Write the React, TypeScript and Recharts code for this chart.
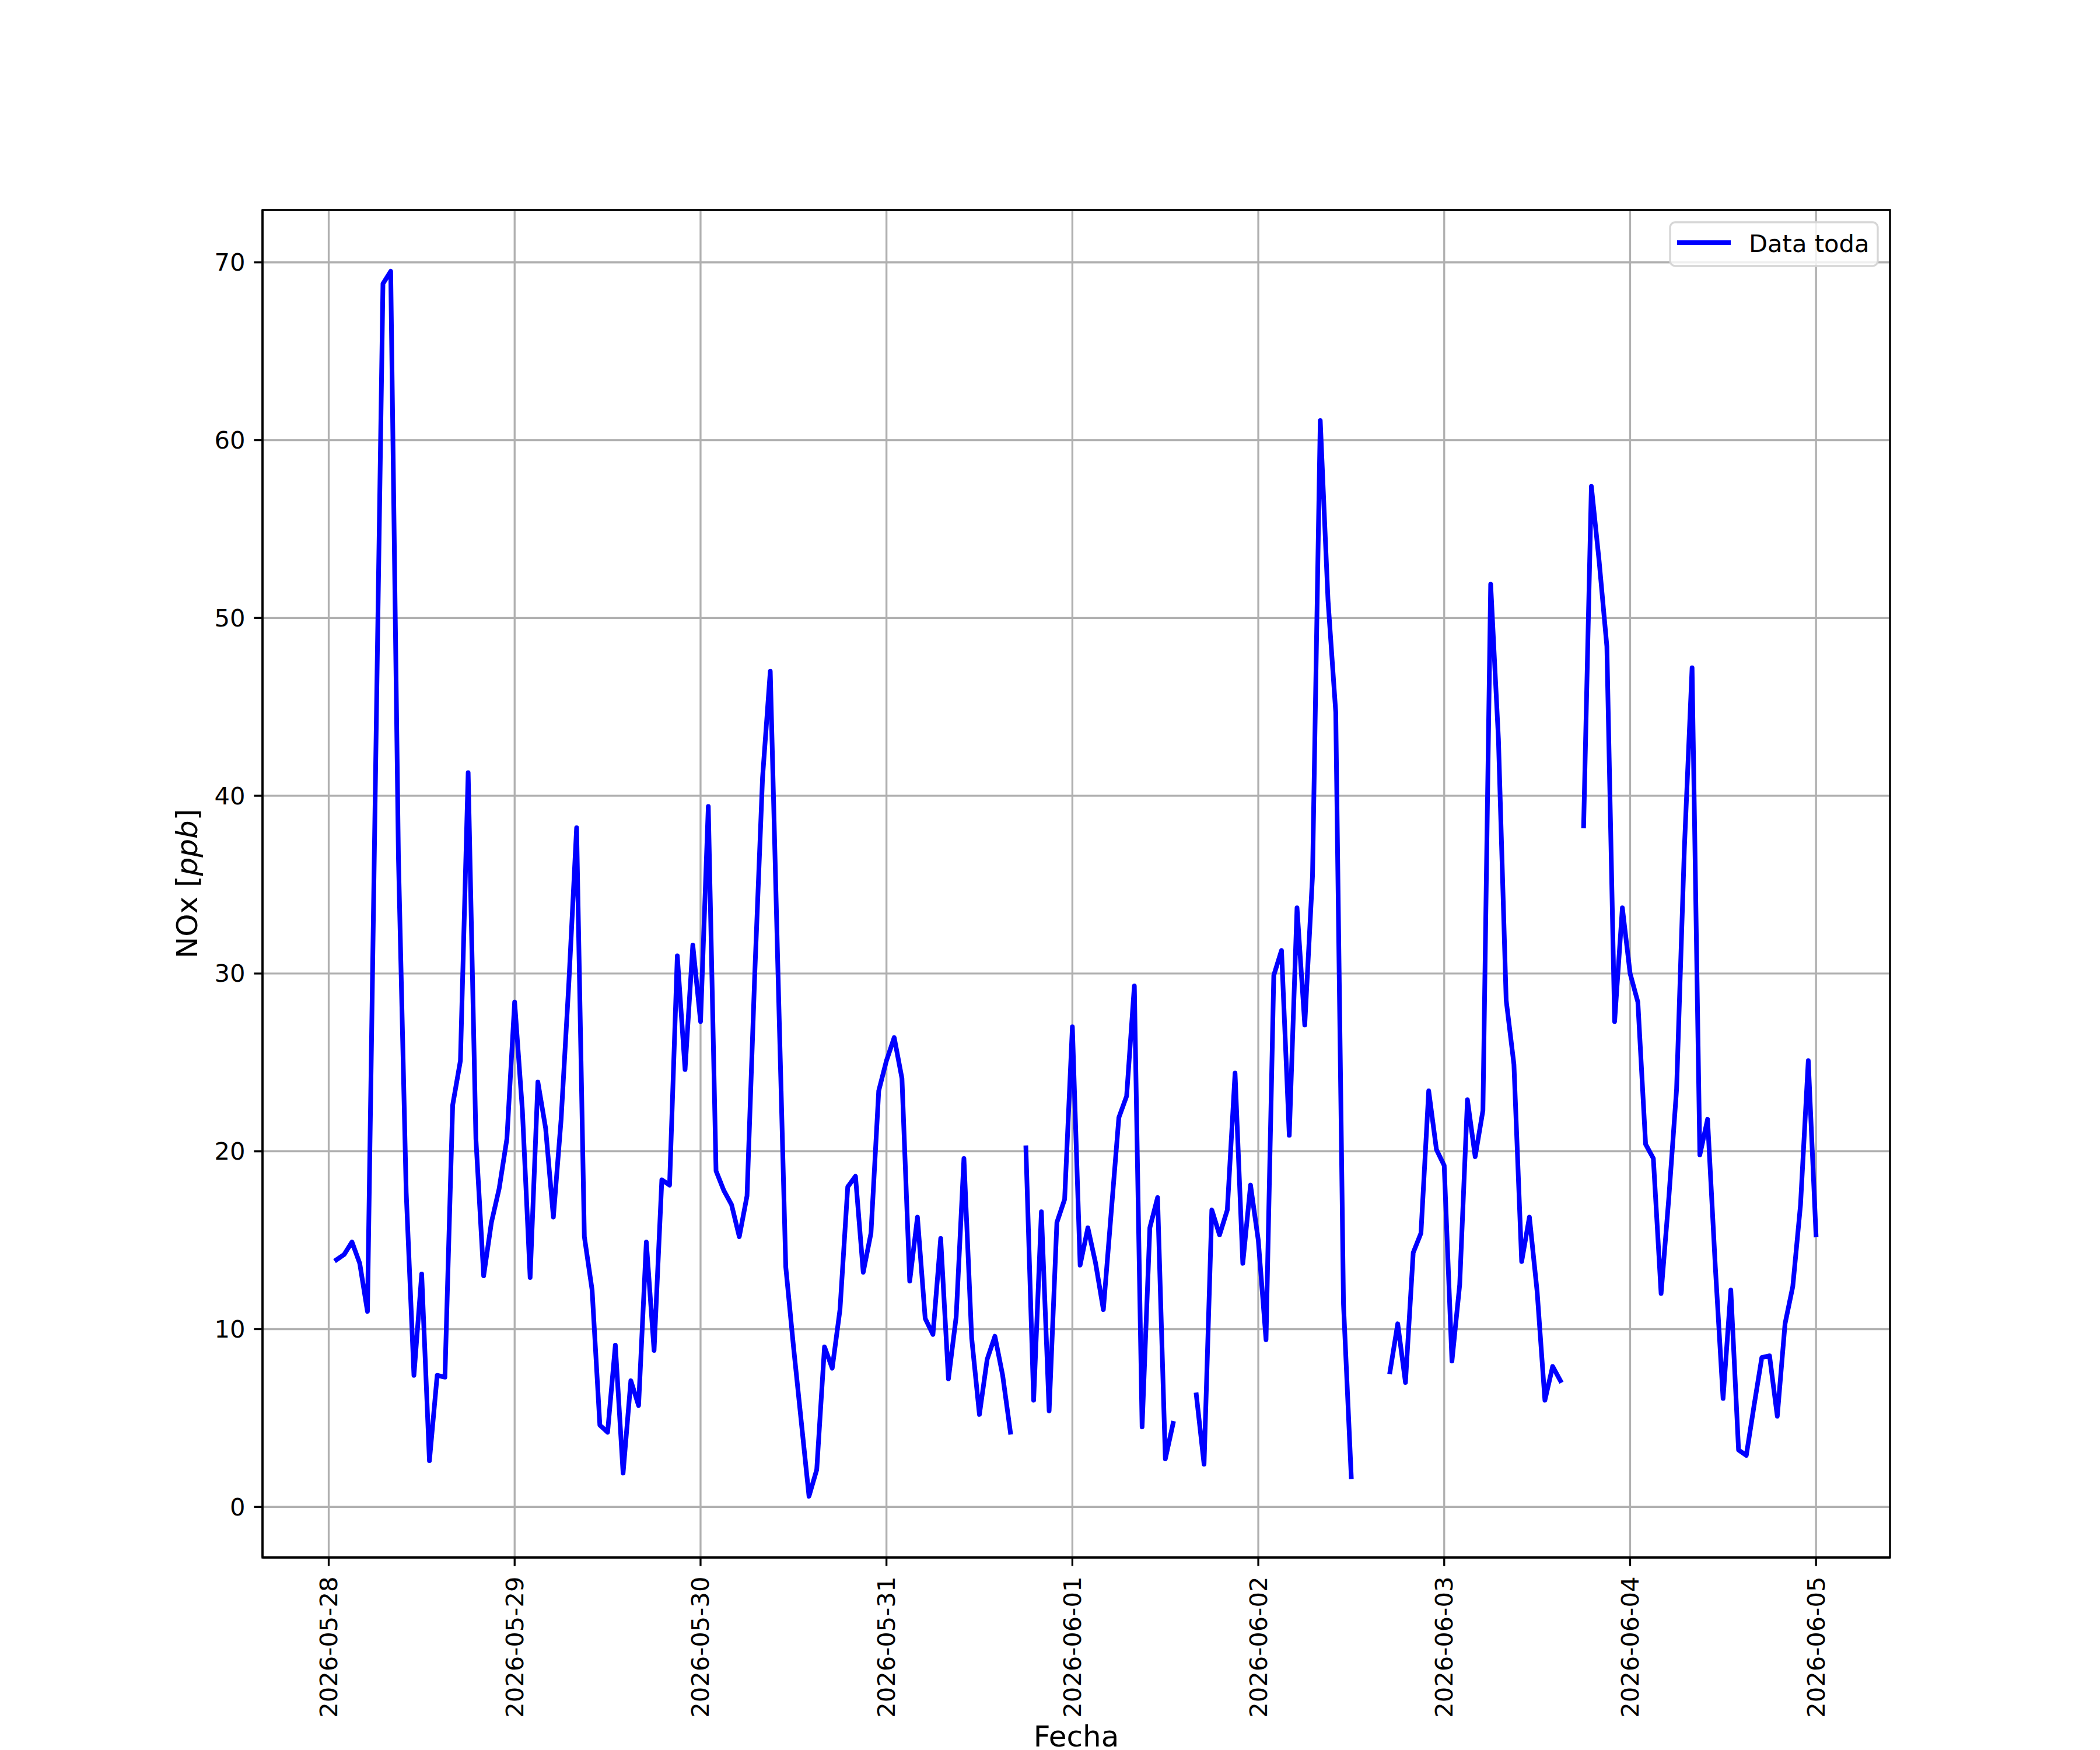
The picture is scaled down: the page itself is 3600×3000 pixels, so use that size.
import React from 'react';
import {
  LineChart,
  Line,
  XAxis,
  YAxis,
  CartesianGrid,
  ReferenceArea,
} from 'recharts';

// hourly NOx readings (ppb); each list starts at 01:00 of its day and ends at 00:00 of the next
const day28: (number | null)[] = [13.9, 14.2, 14.9, 13.7, 11.0, 40.0, 68.8, 69.5, 36.5, 17.7, 7.4, 13.1, 2.6, 7.4, 7.3, 22.6, 25.1, 41.3, 20.7, 13.0, 16.0, 17.9, 20.7, 28.4];
const day29: (number | null)[] = [22.3, 12.9, 23.9, 21.3, 16.3, 21.8, 29.5, 38.2, 15.2, 12.2, 4.6, 4.2, 9.1, 1.9, 7.1, 5.7, 14.9, 8.8, 18.4, 18.1, 31.0, 24.6, 31.6, 27.3];
const day30: (number | null)[] = [39.4, 18.9, 17.8, 17.0, 15.2, 17.5, 30.0, 41.0, 47.0, 30.0, 13.5, 9.0, 4.8, 0.6, 2.1, 9.0, 7.8, 11.1, 18.0, 18.6, 13.2, 15.4, 23.4, 25.1];
const day31: (number | null)[] = [26.4, 24.1, 12.7, 16.3, 10.6, 9.7, 15.1, 7.2, 10.7, 19.6, 9.5, 5.2, 8.3, 9.6, 7.4, 4.2, null, 20.2, 6.0, 16.6, 5.4, 16.0, 17.3, 27.0];
const day01: (number | null)[] = [13.6, 15.7, 13.7, 11.1, 16.5, 21.9, 23.1, 29.3, 4.5, 15.7, 17.4, 2.7, 4.7, null, null, 6.3, 2.4, 16.7, 15.3, 16.7, 24.4, 13.7, 18.1, 15.0];
const day02: (number | null)[] = [9.4, 29.9, 31.3, 20.9, 33.7, 27.1, 35.5, 61.1, 51.0, 44.7, 11.4, 1.7, null, null, null, null, 7.6, 10.3, 7.0, 14.3, 15.4, 23.4, 20.1, 19.2];
const day03: (number | null)[] = [8.2, 12.5, 22.9, 19.7, 22.3, 51.9, 43.2, 28.5, 24.9, 13.8, 16.3, 12.1, 6.0, 7.9, 7.1, null, null, 38.3, 57.4, 53.2, 48.4, 27.3, 33.7, 30.0];
const day04: (number | null)[] = [28.4, 20.4, 19.6, 12.0, 17.4, 23.5, 37.0, 47.2, 19.8, 21.8, 13.5, 6.1, 12.2, 3.2, 2.9, 5.7, 8.4, 8.5, 5.1, 10.3, 12.4, 17.0, 25.1, 15.3];

const tickLabels = ['2026-05-28', '2026-05-29', '2026-05-30', '2026-05-31', '2026-06-01', '2026-06-02', '2026-06-03', '2026-06-04', '2026-06-05'];
const yTicks = [0, 10, 20, 30, 40, 50, 60, 70];

const values = [...day28, ...day29, ...day30, ...day31, ...day01, ...day02, ...day03, ...day04];
const data = values.map((v, i) => ({ h: i + 1, nox: v }));
const xTicks = tickLabels.map((_, i) => i * 24);

const pad = (lo: number, hi: number) => [lo - 0.05 * (hi - lo), hi + 0.05 * (hi - lo)];
const nums = values.filter((v): v is number => v !== null);
const [xMin, xMax] = pad(data[0].h, data[data.length - 1].h);
const [yMin, yMax] = pad(Math.min(...nums), Math.max(...nums));

const FONT = 'DejaVu Sans, sans-serif';
const TICK_PX = 41.67;
const LABEL_PX = 50;
const BLUE = '#0000ff';
const LINE_W = 8;

const XTick = (props: any) => {
  const { x, y, payload } = props;
  const label = tickLabels[Math.round(payload.value / 24)];
  return (
    <text
      x={x}
      y={y}
      transform={`rotate(-90, ${x}, ${y})`}
      textAnchor="end"
      dominantBaseline="central"
      fontFamily={FONT}
      fontSize={TICK_PX}
      fill="#000"
    >
      {label}
    </text>
  );
};

const YTick = (props: any) => {
  const { x, y, payload } = props;
  return (
    <text x={x} y={y} textAnchor="end" dominantBaseline="central" fontFamily={FONT} fontSize={TICK_PX} fill="#000">
      {payload.value}
    </text>
  );
};

const Overlay = () => (
  <svg width={3600} height={3000} style={{ position: 'absolute', left: 0, top: 0, pointerEvents: 'none' }}>
    <text x={1845} y={2994} textAnchor="middle" fontFamily={FONT} fontSize={LABEL_PX} fill="#000">
      Fecha
    </text>
    <text
      x={338}
      y={1515}
      transform="rotate(-90, 338, 1515)"
      textAnchor="middle"
      fontFamily={FONT}
      fontSize={LABEL_PX}
      fill="#000"
    >
      NOx [<tspan fontStyle="italic">ppb</tspan>]
    </text>
    <g>
      <rect x={2863} y={381} width={356} height={75} rx={9} ry={9} fill="rgba(255,255,255,0.8)" stroke="#d6d6d6" strokeWidth={3.3} />
      <line x1={2879} y1={416} x2={2963} y2={416} stroke={BLUE} strokeWidth={LINE_W} strokeLinecap="square" />
      <text x={2998} y={432} fontFamily={FONT} fontSize={TICK_PX} fill="#000">
        Data toda
      </text>
    </g>
  </svg>
);

export default function App() {
  return (
    <div style={{ position: 'absolute', left: 0, top: 0, width: 3600, height: 3000, background: '#fff' }}>
      <LineChart width={3600} height={3000} data={data} margin={{ top: 360, right: 360, left: 250, bottom: 30 }}>
        <CartesianGrid stroke="#b0b0b0" strokeWidth={3.33} />
        <XAxis
          dataKey="h"
          type="number"
          domain={[xMin, xMax]}
          ticks={xTicks}
          allowDataOverflow
          height={300}
          tick={<XTick />}
          tickSize={14.6}
          tickMargin={18}
          tickLine={{ stroke: '#000', strokeWidth: 3.33 }}
          axisLine={{ stroke: '#000', strokeWidth: 3.33 }}
          interval={0}
        />
        <YAxis
          type="number"
          domain={[yMin, yMax]}
          ticks={yTicks}
          allowDataOverflow
          width={200}
          tick={<YTick />}
          tickSize={14.6}
          tickMargin={15}
          tickLine={{ stroke: '#000', strokeWidth: 3.33 }}
          axisLine={{ stroke: '#000', strokeWidth: 3.33 }}
          interval={0}
        />
        <Line
          type="linear"
          dataKey="nox"
          stroke={BLUE}
          strokeWidth={LINE_W}
          strokeLinecap="square"
          strokeLinejoin="round"
          dot={false}
          activeDot={false}
          connectNulls={false}
          isAnimationActive={false}
        />
        <ReferenceArea
          x1={xMin}
          x2={xMax}
          y1={yMin}
          y2={yMax}
          fill="none"
          stroke="#000"
          strokeWidth={3.33}
          ifOverflow="visible"
        />
      </LineChart>
      <Overlay />
    </div>
  );
}
